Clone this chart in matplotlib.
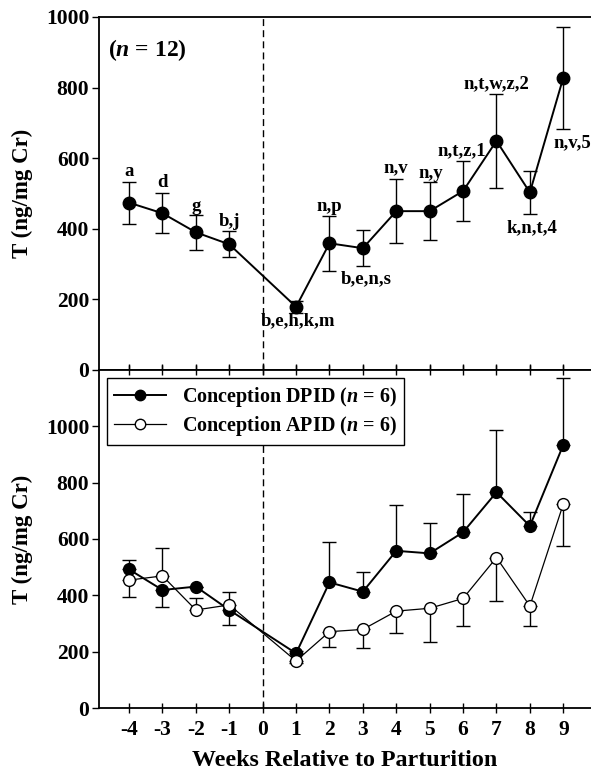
import numpy as np
import matplotlib
matplotlib.use("Agg")
import matplotlib.pyplot as plt
from matplotlib.lines import Line2D

plt.rcParams['font.family'] = ['Liberation Serif', 'DejaVu Serif']
plt.rcParams['font.weight'] = 'bold'
plt.rcParams['mathtext.fontset'] = 'custom'
plt.rcParams['mathtext.it'] = 'Liberation Serif:bold:italic'
plt.rcParams['mathtext.rm'] = 'Liberation Serif:bold'
plt.rcParams['axes.unicode_minus'] = False

# -------------------
# Data
# -------------------
weeks = [-4, -3, -2, -1, 1, 2, 3, 4, 5, 6, 7, 8, 9]

# top panel: all animals (n = 12)
all_mean = [474, 444, 390, 356, 179, 359, 345, 450, 450, 507, 649, 503, 828]
all_err = [59, 57, 49, 37, 17, 78, 51, 91, 82, 86, 133, 62, 144]
sig_labels = ["a", "d", "g", "b,j", "b,e,h,k,m", "n,p", "b,e,n,s", "n,v",
              "n,y", "n,t,z,1", "n,t,w,z,2", "k,n,t,4", "n,v,5"]
label_x = [-4, -3, -2, -1, 1.05, 2, 3.1, 4, 5.03, 5.96, 7, 8.05, 9.28]
label_y = [561, 530, 462, 422, 139, 462, 258, 572, 558, 620, 810, 402, 643]

# bottom panel: DPID vs APID (n = 6 each)
dpid_mean = [492, 419, 431, 348, 194, 446, 413, 558, 549, 624, 766, 646, 934]
dpid_up = [33, 0, 0, 0, 8, 144, 69, 163, 109, 135, 221, 49, 239]
dpid_down = [0, 62, 0, 53, 0, 0, 0, 0, 0, 0, 0, 0, 0]
apid_mean = [454, 469, 348, 366, 167, 271, 279, 344, 354, 389, 534, 362, 724]
apid_up = [0, 100, 42, 47, 0, 0, 0, 0, 0, 0, 0, 0, 0]
apid_down = [59, 0, 0, 0, 8, 56, 67, 77, 119, 97, 153, 71, 149]

# -------------------
# Figure
# -------------------
fig = plt.figure(figsize=(5.91, 7.72), dpi=100)
left = 99 / 591
ax1 = fig.add_axes([left, 1 - 370 / 772, 1 - left, (370 - 17) / 772])
ax2 = fig.add_axes([left, 1 - 708 / 772, 1 - left, (708 - 370) / 772])

xlim = (-4.9, 9.83)
tick_fs = 15.5
ylab_fs = 16.5
xlab_fs = 17.3

# -------------------
# Top panel
# -------------------
ax1.errorbar(weeks, all_mean, yerr=all_err, color='black', lw=1.4,
             marker='o', ms=9, mfc='black', mec='black',
             ecolor='black', elinewidth=1.0, capsize=4.7, capthick=1.0)
ax1.axvline(0, color='black', ls=(0, (5, 3)), lw=1.0)
for lx, ly, s in zip(label_x, label_y, sig_labels):
    ax1.text(lx, ly, s, ha='center', va='center', fontsize=13.5, fontweight='bold')
ax1.text(-4.63, 906, r"($n$ = 12)", ha='left', va='center', fontsize=17, fontweight='bold')

ax1.set_xlim(*xlim)
ax1.set_ylim(0, 1000)
ax1.set_yticks([0, 200, 400, 600, 800, 1000])
ax1.set_xticks(range(-4, 10))
ax1.tick_params(axis='x', direction='in', length=4, width=1, labelbottom=False, top=False)
ax1.tick_params(axis='y', direction='out', length=5, width=1, labelsize=tick_fs, pad=2)
ax1.set_ylabel("T (ng/mg Cr)", fontsize=ylab_fs, fontweight='bold', labelpad=9)
ax1.spines['right'].set_visible(False)

# -------------------
# Bottom panel
# -------------------
ax2.errorbar(weeks, dpid_mean, yerr=[dpid_down, dpid_up], color='black', lw=1.4,
             marker='o', ms=8.5, mfc='black', mec='black',
             ecolor='black', elinewidth=1.0, capsize=4.7, capthick=1.0, zorder=3)
ax2.errorbar(weeks, apid_mean, yerr=[apid_down, apid_up], color='black', lw=0.9,
             marker='o', ms=8.5, mfc='white', mec='black', mew=1.0,
             ecolor='black', elinewidth=1.0, capsize=4.7, capthick=1.0, zorder=3)
ax2.axvline(0, color='black', ls=(0, (5, 3)), lw=1.0)

ax2.set_xlim(*xlim)
ax2.set_ylim(0, 1200)
ax2.set_yticks([0, 200, 400, 600, 800, 1000])
ax2.set_xticks(range(-4, 10))
ax2.tick_params(axis='x', direction='inout', length=7, width=1, labelsize=tick_fs, pad=5, top=True)
ax2.tick_params(axis='y', direction='out', length=5, width=1, labelsize=tick_fs, pad=2)
ax2.set_ylabel("T (ng/mg Cr)", fontsize=ylab_fs, fontweight='bold', labelpad=9)
ax2.set_xlabel("Weeks Relative to Parturition", fontsize=xlab_fs, fontweight='bold', labelpad=7)
ax2.spines['right'].set_visible(False)

handles = [
    Line2D([], [], color='black', lw=1.4, marker='o', ms=7.5, mfc='black', mec='black'),
    Line2D([], [], color='black', lw=0.9, marker='o', ms=7.5, mfc='white', mec='black'),
]
labels = [r"Conception DPID ($n$ = 6)", r"Conception APID ($n$ = 6)"]
leg = ax2.legend(handles, labels, loc='upper left', bbox_to_anchor=(0.016, 0.976), borderaxespad=0,
                 fancybox=False, edgecolor='black', framealpha=1, fontsize=14.5,
                 handlelength=2.6, handletextpad=0.8, borderpad=0.35, labelspacing=0.25)
leg.get_frame().set_linewidth(1.0)

for ax in (ax1, ax2):
    for sp in ax.spines.values():
        sp.set_linewidth(1.3)
    for t in ax.get_xticklabels() + ax.get_yticklabels():
        t.set_fontweight('bold')

fig.savefig("out.png", dpi=100)
